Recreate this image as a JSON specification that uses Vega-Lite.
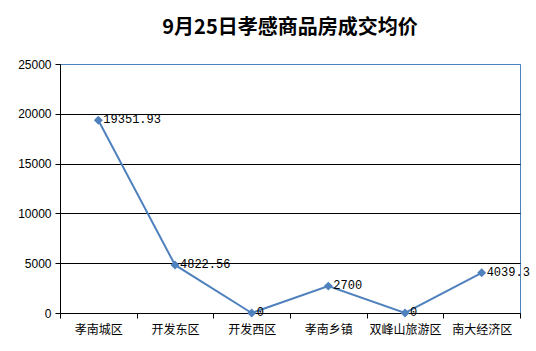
{
  "$schema": "https://vega.github.io/schema/vega-lite/v6.json",
  "width": 460,
  "height": 249,
  "autosize": {"type": "none"},
  "padding": {"left": 60, "top": 64, "right": 16, "bottom": 38},
  "background": "white",
  "title": {
    "text": "9月25日孝感商品房成交均价",
    "font": "Noto Sans CJK SC",
    "fontSize": 20,
    "fontWeight": "bold",
    "color": "black",
    "anchor": "middle",
    "frame": "group",
    "offset": 20
  },
  "config": {
    "view": {"stroke": "#4F81BD", "strokeWidth": 1},
    "axis": {"labelColor": "black", "domainColor": "black", "tickColor": "black", "labelFontSize": 12}
  },
  "data": {
    "values": [
      {"区域": "孝南城区", "均价": 19351.93, "标签": "19351.93"},
      {"区域": "开发东区", "均价": 4822.56, "标签": "4822.56"},
      {"区域": "开发西区", "均价": 0, "标签": "0"},
      {"区域": "孝南乡镇", "均价": 2700, "标签": "2700"},
      {"区域": "双峰山旅游区", "均价": 0, "标签": "0"},
      {"区域": "南大经济区", "均价": 4039.3, "标签": "4039.3"}
    ]
  },
  "encoding": {
    "x": {
      "field": "区域", "type": "nominal", "sort": null,
      "scale": {"type": "band", "paddingInner": 0, "paddingOuter": 0},
      "axis": {"title": null, "labelAngle": 0, "labelFont": "Noto Sans CJK SC", "labelFontSize": 12, "labelPadding": 6, "tickBand": "extent", "tickSize": 5, "grid": false}
    },
    "y": {
      "field": "均价", "type": "quantitative",
      "scale": {"domain": [0, 25000], "nice": false},
      "axis": {"title": null, "values": [0, 5000, 10000, 15000, 20000, 25000], "format": "d", "labelFont": "Liberation Sans", "labelFontSize": 12, "tickSize": 5, "labelPadding": 4,
        "gridColor": {"condition": {"test": "datum.value == 25000", "value": "#4F81BD"}, "value": "black"}, "gridOpacity": 1}
    }
  },
  "layer": [
    {"mark": {"type": "line", "color": "#4F81BD", "strokeWidth": 2}},
    {"mark": {"type": "point", "shape": "diamond", "filled": true, "color": "#4F81BD", "opacity": 1, "size": 80}},
    {"mark": {"type": "text", "align": "left", "baseline": "middle", "dx": 5, "dy": -1, "font": "Liberation Mono", "fontSize": 12, "color": "black"},
      "encoding": {"text": {"field": "标签"}}}
  ]
}
